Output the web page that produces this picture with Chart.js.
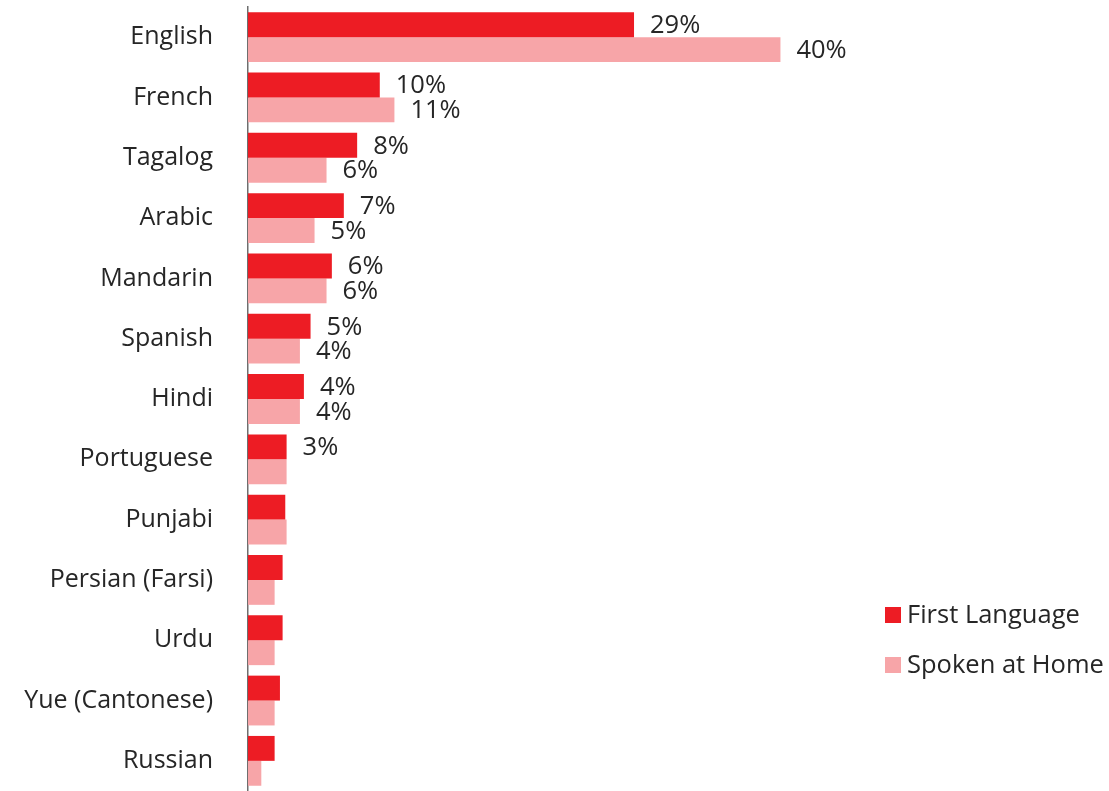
<!DOCTYPE html>
<html><head><meta charset="utf-8">
<script src="https://cdn.jsdelivr.net/npm/chart.js@4"></script>
<style>html,body{margin:0;padding:0;background:#fff}#wrap{width:1109px;height:791px}</style>
</head><body><div id="wrap"><canvas id="c" width="1109" height="791"></canvas></div>
<script>
const categories = ['English','French','Tagalog','Arabic','Mandarin','Spanish','Hindi','Portuguese','Punjabi','Persian (Farsi)','Urdu','Yue (Cantonese)','Russian'];
const firstLanguage = [29, 9.9, 8.2, 7.2, 6.3, 4.7, 4.2, 2.9, 2.8, 2.6, 2.6, 2.4, 2.0];
const spokenAtHome = [40, 11.0, 5.9, 5.0, 5.9, 3.9, 3.9, 2.9, 2.9, 2.0, 2.0, 2.0, 1.0];
const firstLabels = ['29%','10%','8%','7%','6%','5%','4%','3%','','','','',''];
const spokenLabels = ['40%','11%','6%','5%','6%','4%','4%','','','','','',''];
const seriesNames = ['First Language','Spoken at Home'];

const FONT = '"Open Sans", "Liberation Sans", sans-serif';
const TXT = '#262626';

const valueLabels = {
  id: 'valueLabels',
  afterDatasetsDraw(chart) {
    const ctx = chart.ctx;
    const lists = [firstLabels, spokenLabels];
    ctx.save();
    ctx.font = '25.5px ' + FONT;
    ctx.fillStyle = TXT;
    ctx.textAlign = 'left';
    ctx.textBaseline = 'middle';
    chart.data.datasets.forEach((ds, di) => {
      const meta = chart.getDatasetMeta(di);
      meta.data.forEach((bar, i) => {
        const t = lists[di][i];
        if (t) ctx.fillText(t, bar.x + 16, bar.y + 1);
      });
    });
    ctx.restore();
  }
};

const customLegend = {
  id: 'customLegend',
  afterDraw(chart) {
    const ctx = chart.ctx;
    ctx.save();
    ctx.font = '25.5px ' + FONT;
    ctx.textBaseline = 'middle';
    chart.data.datasets.forEach((ds, di) => {
      const y = 615 + di * 50;
      ctx.fillStyle = ds.backgroundColor;
      ctx.fillRect(885, y - 8, 16, 16);
      ctx.fillStyle = TXT;
      ctx.fillText(ds.label, 907, y + 1);
    });
    ctx.restore();
  }
};

new Chart(document.getElementById('c'), {
  type: 'bar',
  data: {
    labels: categories,
    datasets: [
      { label: seriesNames[0], data: firstLanguage, backgroundColor: '#ED1C24', categoryPercentage: 0.826, barPercentage: 1.0 },
      { label: seriesNames[1], data: spokenAtHome, backgroundColor: '#F7A5A8', categoryPercentage: 0.826, barPercentage: 1.0 }
    ]
  },
  options: {
    indexAxis: 'y',
    responsive: false,
    animation: false,
    layout: { padding: { top: 7, right: 262, bottom: -2, left: 0 } },
    plugins: { legend: { display: false }, tooltip: { enabled: false } },
    scales: {
      x: { display: false, min: 0, max: 45 },
      y: {
        afterFit(scale) { scale.width = 248; scale.paddingTop = 0; scale.paddingBottom = 0; },
        grid: { display: false, drawTicks: false },
        border: { display: true, color: '#6e6e6e', width: 1.5 },
        ticks: { color: TXT, font: { family: FONT, size: 25 }, padding: 35 }
      }
    }
  },
  plugins: [valueLabels, customLegend]
});
</script></body></html>
